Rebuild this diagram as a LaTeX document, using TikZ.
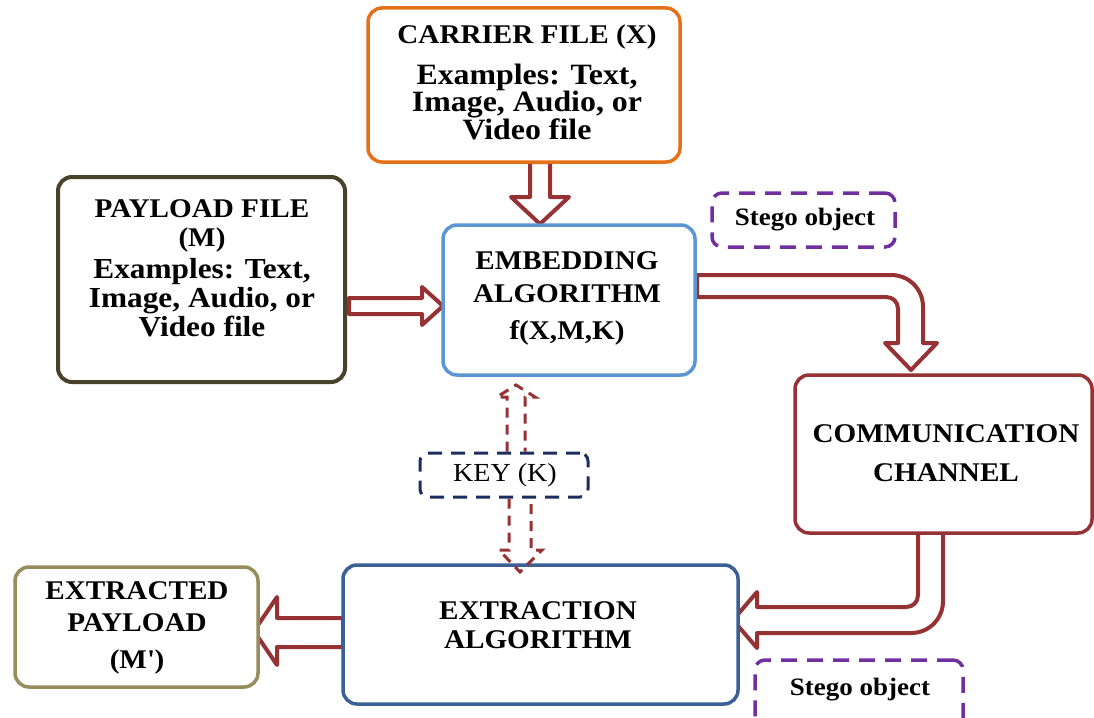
\documentclass[tikz,border=0pt]{standalone}
\usepackage{fontspec}
\setmainfont{Liberation Serif}[FakeStretch=1.08]
\definecolor{corange}{RGB}{228,112,24}
\definecolor{colive}{RGB}{72,66,42}
\definecolor{cblue}{RGB}{92,150,210}
\definecolor{cdblue}{RGB}{58,96,150}
\definecolor{cred}{RGB}{150,50,52}
\definecolor{colive2}{RGB}{150,140,92}
\definecolor{cpurple}{RGB}{112,48,160}
\definecolor{cnavy}{RGB}{28,46,96}
\begin{document}
\begin{tikzpicture}[x=1pt,y=-1pt,
  box/.style={draw=#1, line width=3.5pt, rounded corners=14pt, inner sep=0pt, fill=white},
  dbox/.style={draw=#1, line width=3.5pt, rounded corners=10pt, dash pattern=on 16pt off 10pt, inner sep=0pt},
  txt/.style={align=center, inner sep=0pt, font=\fontsize{27}{29}\selectfont\bfseries},
  bodytxt/.style={align=center, inner sep=0pt, font=\fontsize{29.5}{27}\selectfont\bfseries},
  barrow/.style={draw=cred, line width=4pt, fill=white, line join=round},
  darrow/.style={draw=cred, line width=3pt, dash pattern=on 10pt off 7pt}]
\useasboundingbox (0,0) rectangle (1094,717);
\fill[white] (0,0) rectangle (1094,717);

% block arrows (drawn first, boxes on top)
\draw[barrow] (530,162) -- (530,197) -- (511,197) -- (540,224) -- (569,197) -- (550,197) -- (550,162) -- cycle;
\draw[barrow] (349,298) -- (422,298) -- (422,287) -- (443,306) -- (422,325) -- (422,314) -- (349,314) -- cycle;
\draw[barrow] (697,275) -- (891,275) .. controls (909,275) and (923,289) .. (923,307) -- (923,343) -- (937,343) -- (911,370) -- (885,343) -- (898,343) -- (898,309) .. controls (898,302) and (893,297) .. (886,297) -- (697,297) -- cycle;
\draw[barrow] (918,532) -- (918,595) .. controls (918,602) and (913,607) .. (906,607) -- (757,607) -- (757,592) -- (733,620) -- (757,648) -- (757,633) -- (911,633) .. controls (929,633) and (943,619) .. (943,601) -- (943,532) -- cycle;
\draw[barrow] (343,618) -- (277,618) -- (277,597) -- (254,631) -- (277,665) -- (277,647) -- (343,647) -- cycle;

% boxes
\node[box=corange, minimum width=312pt, minimum height=154pt] (carrier) at (524,85) {};
\node[box=colive, line width=4pt, minimum width=287pt, minimum height=205pt] (payload) at (201.5,279.5) {};
\node[box=cblue, minimum width=252pt, minimum height=150pt] (embed) at (569,300) {};
\node[dbox=cpurple, minimum width=183pt, minimum height=54pt] (stegoA) at (803.5,220) {};
\node[box=cred, minimum width=297pt, minimum height=158pt] (comm) at (943.5,454) {};
\node[dbox=cnavy, line width=3pt, dash pattern=on 14pt off 9pt, rounded corners=8pt, minimum width=168pt, minimum height=44pt] (key) at (504,475) {};
\node[box=cdblue, minimum width=395pt, minimum height=139pt] (extr) at (540.5,634.5) {};
\node[box=colive2, minimum width=243pt, minimum height=120pt] (extracted) at (136.5,627) {};
\node[dbox=cpurple, minimum width=208pt, minimum height=80pt] (stegoB) at (859,700) {};

% dashed key arrows
\draw[darrow] (key.north -| 507,0) -- (507,397) -- (497,397) -- (516,385) -- (535,397) -- (525,397) -- (key.north -| 525,0);
\draw[darrow] (key.south -| 509,0) -- (509,550) -- (499,550) -- (520,572) -- (542,550) -- (531,550) -- (key.south -| 531,0);

% texts
\node[txt] (carrierT) at (527,37) {CARRIER FILE (X)};
\node[bodytxt] (carrierB) at (527,102) {Examples: Text,\\Image, Audio, or\\Video file};
\node[txt] (payloadT) at (202,226) {PAYLOAD FILE\\(M)};
\node[bodytxt, font=\fontsize{29}{29}\selectfont\bfseries] (payloadB) at (202,298) {Examples: Text,\\Image, Audio, or\\Video file};
\node[txt] (embedT) at (567,298) {EMBEDDING\\[4pt]ALGORITHM\\[8pt]f(X,M,K)};
\node[txt] (commT) at (946,453) {COMMUNICATION\\[10pt]CHANNEL};
\node[txt] (extrT) at (538,625) {EXTRACTION\\ALGORITHM};
\node[txt] (extractedT) at (137,628) {EXTRACTED\\[3pt]PAYLOAD\\[8pt](M\textquotesingle)};
\node[txt, font=\fontsize{25}{27}\selectfont\bfseries] (stegoAT) at (805,220) {Stego object};
\node[txt, font=\fontsize{25}{27}\selectfont\bfseries] (stegoBT) at (860,690) {Stego object};
\node[txt, font=\fontsize{26}{28}\selectfont] (keyT) at (505,475) {KEY (K)};
\end{tikzpicture}
\end{document}
